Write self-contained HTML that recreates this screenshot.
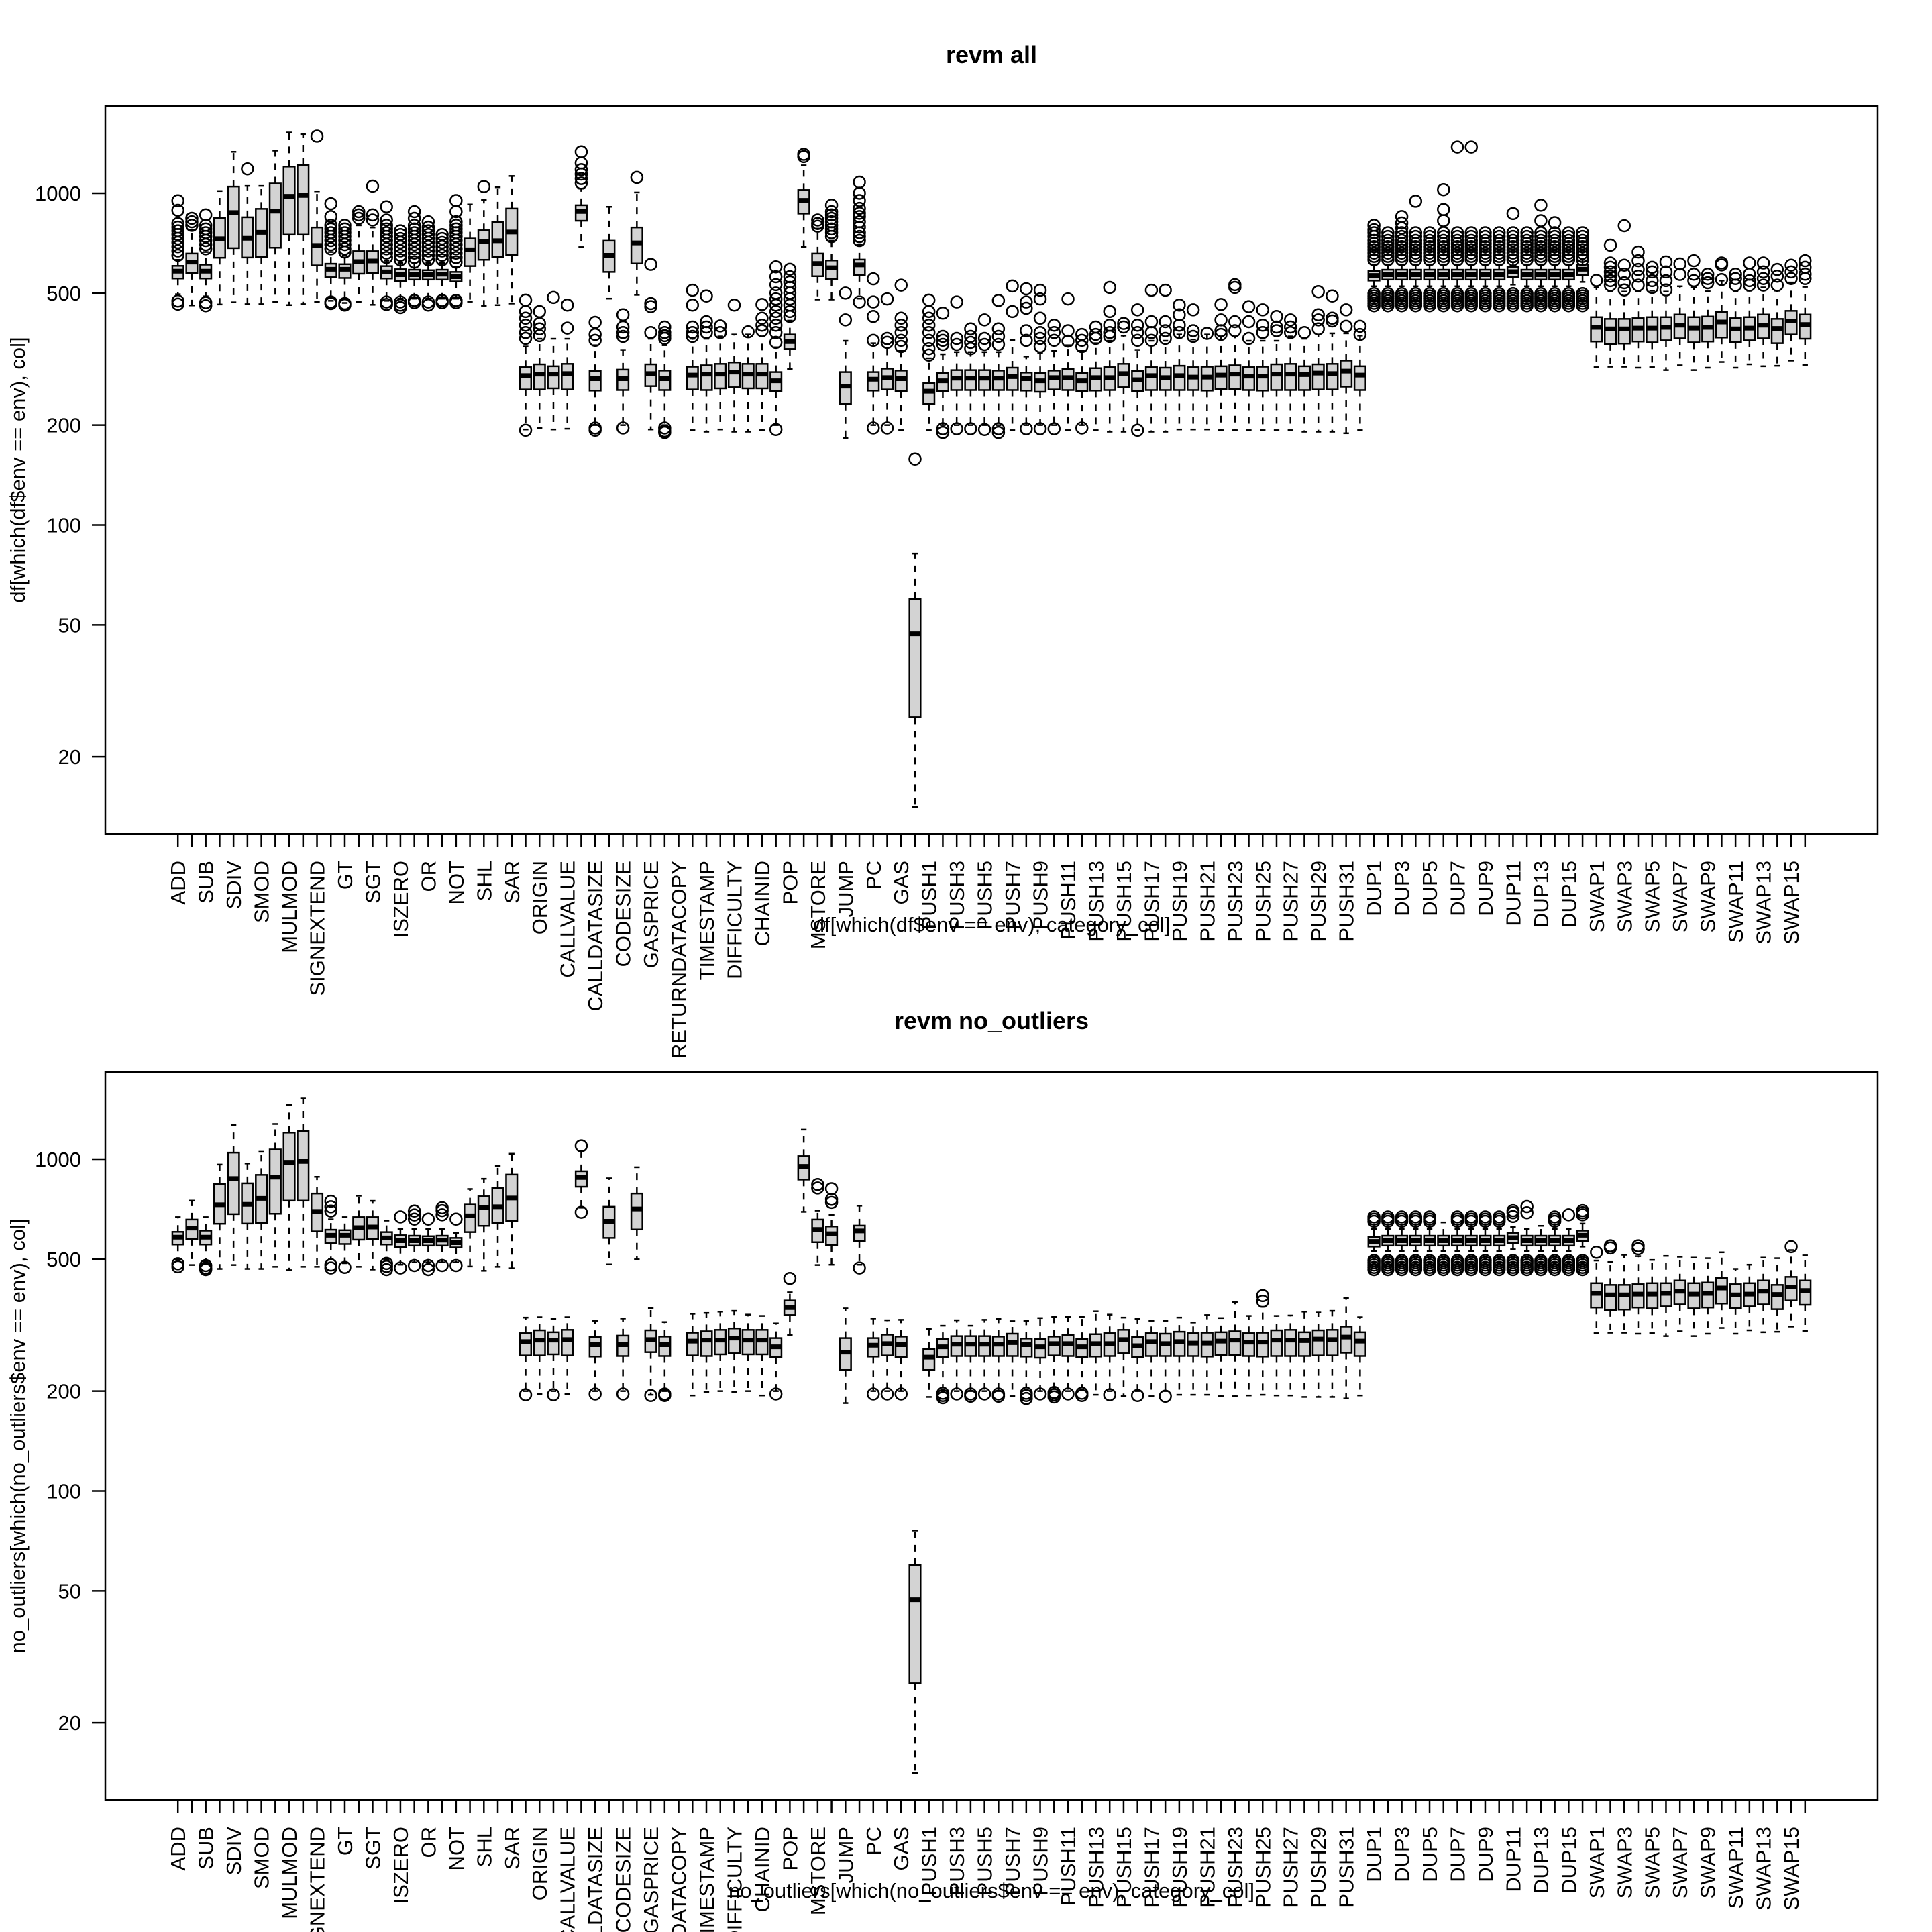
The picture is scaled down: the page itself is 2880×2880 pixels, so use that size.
<!DOCTYPE html>
<html><head><meta charset="utf-8"><title>revm boxplots</title>
<style>
html,body{margin:0;padding:0;background:#fff;}
svg{display:block;}
text{font-family:"Liberation Sans",Arial,sans-serif;fill:#000;}
</style></head>
<body>
<svg id="chart" xmlns="http://www.w3.org/2000/svg" width="2880" height="2880" viewBox="0 0 2880 2880">
<rect x="0" y="0" width="2880" height="2880" fill="#fff"/>
</svg>
<script>
const categories = ["ADD","MUL","SUB","DIV","SDIV","MOD","SMOD","ADDMOD","MULMOD","EXP","SIGNEXTEND","LT","GT","SLT","SGT","EQ","ISZERO","AND","OR","XOR","NOT","BYTE","SHL","SHR","SAR","ADDRESS","ORIGIN","CALLER","CALLVALUE","CALLDATALOAD","CALLDATASIZE","CALLDATACOPY","CODESIZE","CODECOPY","GASPRICE","RETURNDATASIZE","RETURNDATACOPY","COINBASE","TIMESTAMP","NUMBER","DIFFICULTY","GASLIMIT","CHAINID","SELFBALANCE","POP","MLOAD","MSTORE","MSTORE8","JUMP","JUMPI","PC","MSIZE","GAS","JUMPDEST",
"PUSH1","PUSH2","PUSH3","PUSH4","PUSH5","PUSH6","PUSH7","PUSH8","PUSH9","PUSH10","PUSH11","PUSH12","PUSH13","PUSH14","PUSH15","PUSH16","PUSH17","PUSH18","PUSH19","PUSH20","PUSH21","PUSH22","PUSH23","PUSH24","PUSH25","PUSH26","PUSH27","PUSH28","PUSH29","PUSH30","PUSH31","PUSH32",
"DUP1","DUP2","DUP3","DUP4","DUP5","DUP6","DUP7","DUP8","DUP9","DUP10","DUP11","DUP12","DUP13","DUP14","DUP15","DUP16",
"SWAP1","SWAP2","SWAP3","SWAP4","SWAP5","SWAP6","SWAP7","SWAP8","SWAP9","SWAP10","SWAP11","SWAP12","SWAP13","SWAP14","SWAP15","SWAP16"];

const yTicks = [20,50,100,200,500,1000];

const q1 = [553,575,553,639,683,640,642,685,750,750,606,558,555,572,575,553,544,549,549,549,542,603,630,643,651,
256,256,258,256,826,254,579,255,614,262,255,null,256,255,258,260,258,258,253,339,868,562,551,232,567,254,256,253,26.3,
232,253,255,255,255,255,255,254,252,256,255,253,254,255,260,253,255,255,255,255,254,257,257,255,254,255,255,255,256,256,261,255,
545,549,549,549,549,549,549,549,549,549,559,549,549,549,549,566,
357,351,352,357,355,360,365,355,357,367,356,360,365,353,375,364];

const med = [582,620,582,729,874,731,762,883,979,985,696,590,590,622,625,579,568,568,568,570,560,675,714,719,764,
282,285,285,286,881,276,650,276,708,286,276,null,283,285,285,289,285,285,272,357,952,614,596,262,608,275,278,276,47,
253,272,277,277,277,277,280,276,272,278,278,272,278,278,286,274,282,278,282,279,279,283,285,281,281,285,285,284,287,286,291,283,
565,568,568,568,568,568,568,568,568,568,580,568,568,568,568,590,
394,390,390,392,392,394,400,392,394,409,390,392,400,391,412,402];

const q3 = [604,658,609,842,1047,846,897,1070,1203,1216,788,613,611,669,669,603,590,588,586,588,579,730,773,819,899,
299,305,301,306,920,291,719,294,788,305,292,null,300,303,306,309,306,306,289,375,1022,658,627,289,631,289,296,292,59.8,
268,287,293,293,293,292,298,288,287,292,295,287,297,299,306,291,299,298,302,299,300,301,303,299,300,305,306,301,305,306,313,301,
583,588,588,588,588,588,588,588,588,588,600,588,588,588,588,609,
423,418,418,420,423,423,431,423,425,439,420,423,431,418,442,431];

const loAll = [496,459,489,462,469,463,463,470,460,463,470,474,467,470,461,474,481,481,481,481,481,471,458,460,465,
194,196,194,195,688,200,481,200,494,194,200,null,193,191,194,191,191,193,200,295,689,478,478,183,481,200,200,193,14.1,
193,200,200,200,200,200,193,200,200,200,193,200,193,191,191,193,191,191,194,194,194,193,193,193,193,193,193,191,191,191,189,193,
524,524,524,524,524,524,524,524,524,524,530,524,524,524,524,540,
299,300,300,298,299,293,303,293,298,310,298,305,301,302,313,304];

const hiAll = [630,776,665,1015,1333,1052,1052,1344,1524,1508,1013,665,648,800,788,626,616,616,616,616,600,925,955,1042,1127,
345,364,364,364,1032,348,910,337,1005,364,348,null,364,364,370,375,375,370,343,413,1214,782,719,359,700,353,351,335,82,
318,327,332,332,332,332,361,322,330,335,348,335,353,359,372,337,359,359,375,362,375,370,370,359,359,359,370,364,375,378,378,372,
610,610,610,610,610,610,610,610,610,610,620,610,610,610,610,630,
520,505,505,505,508,505,524,520,506,545,505,508,520,508,538,522];

const dupHi = [630,645,660,675,690,705,720,740,760];
const dupLo = [498,490,482,474,466,458];

const outAll = [
[949,888,810,790,770,750,730,710,690,670,650,473,463],[840,820,800],[860,800,780,760,740,720,700,680,468,458],[],[],[1184],[],[],[],[],[1486],
[930,850,800,780,760,740,720,700,680,470,465],[800,780,760,740,720,700,680,665,465,460],[880,860,840],[1050,860,830],
[910,830,800,780,760,740,720,700,680,660,640,470,462],[770,750,730,710,690,670,650,630,470,460,452],
[880,840,800,780,760,740,720,700,680,660,640,620,475,468],[820,790,770,750,730,710,690,670,650,630,470,460],
[750,730,710,690,670,650,630,475,468],[950,880,820,800,780,760,740,720,700,680,660,640,620,475,468],
[],[1047],[],[],
[476,440,420,400,380,365,193],[440,405,390,372],[485],[460,392],[1333,1234,1178,1142,1107,1073],[408,375,360,196,193],[],
[430,395,380,370,196],[1116],[610,465,455,380],[395,380,372,365,196,192,190],[],[510,460,395,380,370],[490,410,395,380],
[398,380],[460],[382],[462,420,400,385],[600,560,530,500,480,460,440,420,400,380,355,194],[590,560,540,520,500,480,460,440,425],
[1290,1310],[830,810,795],[920,880,860,840,820,800,780,760,740],[500,415],[1080,1000,950,900,870,850,820,790,760,740,720,470],
[552,470,425,360,196],[480,365,355,196],[528,420,400,380,360,345],[158],
[476,440,420,400,380,360,340,325],[435,370,360,350,195,190],[470,365,350,195],[390,370,355,340,195],[415,365,350,194],
[475,390,370,350,195,190],[525,440],[515,470,450,385,360,195],[510,480,420,380,365,345,195],[400,380,360,195],[480,385,358],
[375,360,345,196],[395,375,365],[520,440,400,380,370],[405,395],[445,400,380,360,193],[510,410,380,360],[510,410,385,365],
[460,430,400,380],[445,385,370],[378],[462,415,385,375],[530,520,410,385],[455,410,365],[445,400,380],[425,395,385],[415,395,380],
[380],[505,430,415,390],[490,420,412],[445,397],[397,375],
dupHi.concat(dupLo,[800,776]),dupHi.concat(dupLo),dupHi.concat(dupLo,[850,813,785]),dupHi.concat(dupLo,[946]),dupHi.concat(dupLo),
dupHi.concat(dupLo,[1025,893,826]),dupHi.concat(dupLo,[1378]),dupHi.concat(dupLo,[1378]),dupHi.concat(dupLo),dupHi.concat(dupLo),
dupHi.concat(dupLo,[868]),dupHi.concat(dupLo),dupHi.concat(dupLo,[920,826]),dupHi.concat(dupLo,[815]),dupHi.concat(dupLo),dupHi.concat(dupLo),
[546],[697,616,598,579,562,545,528],[798,607,570,537,511],[665,626,589,562,528],[598,579,545,520],[621,579,545,511],[612,569],
[626,570,545],[570,553,537],[616,608,549],[570,553,528],[616,570,545,528],[616,579,553,528],[589,562,528],[607,579,553],[626,598,570,553]];

const loNo = [500,480,492,467,480,467,467,474,463,474,474,500,486,474,465,500,481,489,489,489,489,475,461,474,469,
200,196,200,196,714,200,482,200,499,195,200,null,194,199,200,199,200,194,200,295,694,480,481,184,481,200,200,200,14.1,
192,205,200,200,200,200,193,205,200,205,200,205,195,200,193,200,193,200,195,195,195,193,193,194,195,194,194,192,192,192,190,194,
528,528,528,528,528,528,528,528,528,528,535,528,528,528,528,545,
299,300,300,298,299,293,303,293,298,310,298,305,301,302,313,304];

const hiNo = [669,750,669,964,1267,971,1053,1277,1459,1524,885,659,669,776,749,653,616,616,616,616,600,813,873,955,1039,
333,334,330,334,1057,326,876,331,946,356,323,null,342,344,347,349,340,337,320,397,1228,700,680,355,724,331,327,328,76,
308,315,327,315,328,330,325,326,332,335,335,335,348,340,333,330,326,326,333,322,339,332,371,337,359,337,338,347,345,349,381,334,
616,616,616,616,616,645,616,616,616,616,625,616,630,616,616,640,
495,490,515,510,497,511,508,505,503,524,467,481,505,503,532,513];

const dupHiNo = [650,660,670];
const dupLoNo = [495,488,480,472,465];

const outNo = [
[484,474],[],[478,465,470],[],[],[],[],[],[],[],[],[747,719,698,480,470],[472],[],[],[485,475,465],[670,470],[698,679,660,478],
[660,478,465],[714,700,680,478],[660,478],[],[],[],[],
[195],[],[195],[],[1097,692],[196],[],[196],[],[194],[196,194],[],[],[],[],[],[],[],[196],[437],[],[839,819],[815,757,741],[],[470],
[196],[196],[196],[],
[],[197,194,191],[196],[196,193],[196],[196,193],[],[197,194,190],[196],[198,195,192],[196],[197,194],[],[195],[],[194],[],[193],
[],[],[],[],[],[],[388,373],[],[],[],[],[],[],[],
dupHiNo.concat(dupLoNo),dupHiNo.concat(dupLoNo),dupHiNo.concat(dupLoNo),dupHiNo.concat(dupLoNo),dupHiNo.concat(dupLoNo),dupLoNo,
dupHiNo.concat(dupLoNo),dupHiNo.concat(dupLoNo),dupHiNo.concat(dupLoNo),dupHiNo.concat(dupLoNo),[700,690,672].concat(dupLoNo),
[720,690].concat(dupLoNo),dupLoNo,dupHiNo.concat(dupLoNo),[680].concat(dupLoNo),[700,690,680].concat(dupLoNo),
[524],[548,540],[],[548,537],[],[],[],[],[],[],[],[],[],[],[545],[]];

const NS = "http://www.w3.org/2000/svg";
const svg = document.getElementById("chart");
function mk(tag, attrs, parent) {
  const e = document.createElementNS(NS, tag);
  for (const k in attrs) e.setAttribute(k, attrs[k]);
  (parent || svg).appendChild(e);
  return e;
}

const LMAX = 3.2629, LMIN = 1.0688;
const LEFT = 157, RIGHT = 2799;

function drawPlot(top, bottom, title, ylab, xlab, lo, hi, out, prefix) {
  const n = categories.length;
  const sp = (RIGHT - LEFT) / (1.08 * n);
  const xPos = i => LEFT + (0.5 + 0.04 * n + i) * sp;
  const yPos = v => top + (LMAX - Math.log10(v)) / (LMAX - LMIN) * (bottom - top);
  const bw = 0.8 * sp;

  const g = mk("g", {});
  
  

  for (let i = 0; i < n; i++) {
    const x = xPos(i);
    const bg = mk("g", {}, g);
    
    
    if (q1[i] !== null) {
      const yq1 = yPos(q1[i]), yq3 = yPos(q3[i]), ym = yPos(med[i]);
      const yl = yPos(lo[i]), yh = yPos(hi[i]);
      const w1 = mk("line", {x1:x, x2:x, y1:yq3, y2:yh, stroke:"#000", "stroke-width":2.5, "stroke-dasharray":"10 10"}, bg);
      
      
      const w2 = mk("line", {x1:x, x2:x, y1:yq1, y2:yl, stroke:"#000", "stroke-width":2.5, "stroke-dasharray":"10 10"}, bg);
      
      
      const s1 = mk("line", {x1:x - bw/4, x2:x + bw/4, y1:yh, y2:yh, stroke:"#000", "stroke-width":2.5}, bg);
      
      
      const s2 = mk("line", {x1:x - bw/4, x2:x + bw/4, y1:yl, y2:yl, stroke:"#000", "stroke-width":2.5}, bg);
      
      
      const r = mk("rect", {x:x - bw/2, y:yq3, width:bw, height:Math.max(yq1 - yq3, 1), fill:"#d3d3d3", stroke:"#000", "stroke-width":2.5}, bg);
      
      
      const m = mk("line", {x1:x - bw/2, x2:x + bw/2, y1:ym, y2:ym, stroke:"#000", "stroke-width":7}, bg);
      
      
    }
    const outs = out[i] || [];
    for (let j = 0; j < outs.length; j++) {
      const c = mk("circle", {cx:x, cy:yPos(outs[j]), r:8.5, fill:"none", stroke:"#000", "stroke-width":2.5}, bg);
      
      
    }
    const t = mk("line", {x1:x, x2:x, y1:bottom, y2:bottom + 20, stroke:"#000", "stroke-width":2.5}, g);
    
    
    if (i % 2 === 0) {
      const lx = x + 11, ly = bottom + 40;
      const tl = mk("text", {x:lx, y:ly, "font-size":31, "text-anchor":"end", transform:"rotate(-90 " + lx + " " + ly + ")"}, g);
      tl.textContent = categories[i];
      
      
    }
  }

  for (let k = 0; k < yTicks.length; k++) {
    const y = yPos(yTicks[k]);
    const t = mk("line", {x1:LEFT - 20, x2:LEFT, y1:y, y2:y, stroke:"#000", "stroke-width":2.5}, g);
    
    
    const tl = mk("text", {x:LEFT - 36, y:y + 11, "font-size":31, "text-anchor":"end"}, g);
    tl.textContent = String(yTicks[k]);
    
    
  }

  const frame = mk("rect", {x:LEFT, y:top, width:RIGHT - LEFT, height:bottom - top, fill:"none", stroke:"#000", "stroke-width":2.5}, g);
  
  

  const tt = mk("text", {x:(LEFT + RIGHT) / 2, y:top - 64, "font-size":36, "font-weight":"bold", "text-anchor":"middle"}, g);
  tt.textContent = title;
  
  

  const yc = (top + bottom) / 2;
  const yl = mk("text", {x:37, y:yc, "font-size":31, "text-anchor":"middle", transform:"rotate(-90 37 " + yc + ")"}, g);
  yl.textContent = ylab;
  
  

  const xl = mk("text", {x:(LEFT + RIGHT) / 2, y:bottom + 146, "font-size":31, "text-anchor":"middle"}, g);
  xl.textContent = xlab;
  
  
}

drawPlot(158, 1243, "revm all", "df[which(df$env == env), col]", "df[which(df$env == env), category_col]", loAll, hiAll, outAll, "all");
drawPlot(1598, 2683, "revm no_outliers", "no_outliers[which(no_outliers$env == env), col]", "no_outliers[which(no_outliers$env == env), category_col]", loNo, hiNo, outNo, "no-outliers");
</script>
</body></html>
